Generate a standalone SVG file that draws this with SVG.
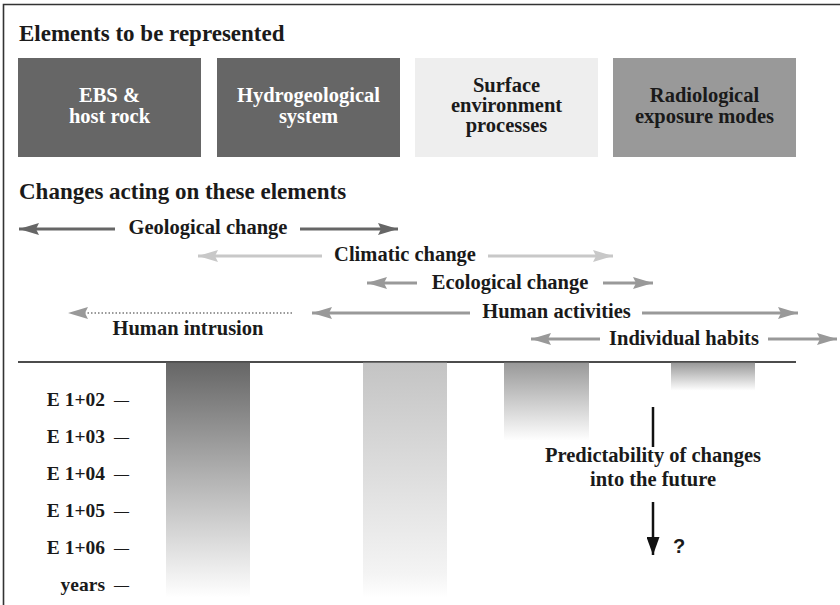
<svg xmlns="http://www.w3.org/2000/svg" width="840" height="605" viewBox="0 0 840 605">
  <style>
    text { font-family: "Liberation Serif", "Times New Roman", serif; font-weight: bold; fill: #1a1a1a; }
    .title { font-size: 23px; }
    .lbl { font-size: 20.5px; text-anchor: middle; }
    .box-dark { font-size: 20.5px; text-anchor: middle; fill: #ffffff; }
    .box-lite { font-size: 20.5px; text-anchor: middle; fill: #1a1a1a; }
    .axis { font-size: 19.5px; text-anchor: end; }
    .dash { font-size: 15px; }
    .q { font-family: "Liberation Sans", Arial, sans-serif; font-size: 20px; }
    .ln { fill: none; stroke-width: 3; }
    .dark { stroke: #666666; }
    .light { stroke: #c8c8c8; }
    .mid { stroke: #999999; }
  </style>
  <defs>
    <marker id="ahDark" viewBox="0 -6 20 12" refX="20" refY="0" markerWidth="20" markerHeight="12" markerUnits="userSpaceOnUse" orient="auto">
      <path d="M0,-6 L20,0 L0,6 L3,0 Z" fill="#666666"/>
    </marker>
    <marker id="ahLight" viewBox="0 -6 20 12" refX="20" refY="0" markerWidth="20" markerHeight="12" markerUnits="userSpaceOnUse" orient="auto">
      <path d="M0,-6 L20,0 L0,6 L3,0 Z" fill="#c8c8c8"/>
    </marker>
    <marker id="ahMid" viewBox="0 -6 20 12" refX="20" refY="0" markerWidth="20" markerHeight="12" markerUnits="userSpaceOnUse" orient="auto">
      <path d="M0,-6 L20,0 L0,6 L3,0 Z" fill="#999999"/>
    </marker>
    <marker id="ahBlack" viewBox="0 -6.5 18 13" refX="18" refY="0" markerWidth="18" markerHeight="13" markerUnits="userSpaceOnUse" orient="auto">
      <path d="M0,-6.5 L18,0 L0,6.5 Z" fill="#111111"/>
    </marker>
    <linearGradient id="gBar1" x1="0" y1="0" x2="0" y2="1">
      <stop offset="0" stop-color="#666666"/>
      <stop offset="0.5" stop-color="#b4b4b4"/>
      <stop offset="1" stop-color="#ffffff"/>
    </linearGradient>
    <linearGradient id="gBar2" x1="0" y1="0" x2="0" y2="1">
      <stop offset="0" stop-color="#c4c4c4"/>
      <stop offset="0.9" stop-color="#f4f4f4"/>
      <stop offset="1" stop-color="#ffffff"/>
    </linearGradient>
    <linearGradient id="gBar3" x1="0" y1="0" x2="0" y2="1">
      <stop offset="0" stop-color="#999999"/>
      <stop offset="1" stop-color="#ffffff"/>
    </linearGradient>
    <linearGradient id="gBar4" x1="0" y1="0" x2="0" y2="1">
      <stop offset="0" stop-color="#999999"/>
      <stop offset="1" stop-color="#ffffff"/>
    </linearGradient>
  </defs>

  <rect width="840" height="605" fill="#ffffff"/>

  <!-- frame -->
  <path d="M3.5,605 V4.5 H840" fill="none" stroke="#333333" stroke-width="1.6"/>

  <!-- section headings -->
  <text class="title" x="19" y="41">Elements to be represented</text>
  <text class="title" x="19" y="199">Changes acting on these elements</text>

  <!-- element boxes -->
  <g id="ebs">
    <rect x="18" y="58" width="183" height="99" fill="#666666"/>
    <text class="box-dark" x="109.5" y="102">EBS &amp;</text>
    <text class="box-dark" x="109.5" y="123">host rock</text>
  </g>
  <g id="hydro">
    <rect x="217" y="58" width="183" height="99" fill="#666666"/>
    <text class="box-dark" x="308.5" y="102">Hydrogeological</text>
    <text class="box-dark" x="308.5" y="123">system</text>
  </g>
  <g id="surface">
    <rect x="415" y="58" width="183" height="99" fill="#eeeeee"/>
    <text class="box-lite" x="506.5" y="92">Surface</text>
    <text class="box-lite" x="506.5" y="112">environment</text>
    <text class="box-lite" x="506.5" y="132">processes</text>
  </g>
  <g id="radio">
    <rect x="613" y="58" width="183" height="99" fill="#999999"/>
    <text class="box-lite" x="704.5" y="102">Radiological</text>
    <text class="box-lite" x="704.5" y="123">exposure modes</text>
  </g>

  <!-- change ranges -->
  <g id="connectors">
    <line class="ln dark" x1="115" y1="229" x2="19" y2="229" marker-end="url(#ahDark)"/>
    <line class="ln dark" x1="300" y1="229" x2="398" y2="229" marker-end="url(#ahDark)"/>

    <line class="ln light" x1="322" y1="256" x2="198" y2="256" marker-end="url(#ahLight)"/>
    <line class="ln light" x1="488" y1="256" x2="613" y2="256" marker-end="url(#ahLight)"/>

    <line class="ln mid" x1="417" y1="283" x2="367" y2="283" marker-end="url(#ahMid)"/>
    <line class="ln mid" x1="603" y1="283" x2="653" y2="283" marker-end="url(#ahMid)"/>

    <line class="ln mid" x1="470" y1="313" x2="312" y2="313" marker-end="url(#ahMid)"/>
    <line class="ln mid" x1="642" y1="313" x2="798" y2="313" marker-end="url(#ahMid)"/>

    <line x1="292" y1="313" x2="84" y2="313" fill="none" stroke="#999999" stroke-width="2" stroke-dasharray="1.5 2"/>
    <line x1="88" y1="313" x2="68" y2="313" stroke="#999999" stroke-width="0.01" marker-end="url(#ahMid)"/>

    <line class="ln mid" x1="600" y1="339" x2="531" y2="339" marker-end="url(#ahMid)"/>
    <line class="ln mid" x1="768" y1="339" x2="837" y2="339" marker-end="url(#ahMid)"/>

    <!-- predictability arrow -->
    <line x1="653" y1="407" x2="653" y2="447" stroke="#111111" stroke-width="2.5"/>
    <line x1="653" y1="502" x2="653" y2="555" stroke="#111111" stroke-width="2.5" marker-end="url(#ahBlack)"/>
  </g>

  <g id="labels">
    <text class="lbl" x="208" y="234">Geological change</text>
    <text class="lbl" x="405" y="261">Climatic change</text>
    <text class="lbl" x="510" y="288.5">Ecological change</text>
    <text class="lbl" x="556.5" y="318">Human activities</text>
    <text class="lbl" x="188" y="335">Human intrusion</text>
    <text class="lbl" x="684" y="345">Individual habits</text>
  </g>

  <!-- time axis -->
  <line x1="18" y1="362" x2="796" y2="362" stroke="#111111" stroke-width="1.3"/>
  <g id="bars">
    <rect x="166" y="362.7" width="84" height="235" fill="url(#gBar1)"/>
    <rect x="363" y="362.7" width="84" height="235" fill="url(#gBar2)"/>
    <rect x="504" y="362.7" width="85" height="78" fill="url(#gBar3)"/>
    <rect x="671" y="362.7" width="84" height="28" fill="url(#gBar4)"/>
  </g>
  <g id="axis-labels">
    <text class="axis" x="129" y="406">E 1+02<tspan class="dash" dx="9" dy="-1.5">—</tspan></text>
    <text class="axis" x="129" y="443">E 1+03<tspan class="dash" dx="9" dy="-1.5">—</tspan></text>
    <text class="axis" x="129" y="480">E 1+04<tspan class="dash" dx="9" dy="-1.5">—</tspan></text>
    <text class="axis" x="129" y="517">E 1+05<tspan class="dash" dx="9" dy="-1.5">—</tspan></text>
    <text class="axis" x="129" y="554">E 1+06<tspan class="dash" dx="9" dy="-1.5">—</tspan></text>
    <text class="axis" x="129" y="591">years<tspan class="dash" dx="9" dy="-1.5">—</tspan></text>
  </g>

  <g id="predictability">
    <text class="lbl" x="653" y="462">Predictability of changes</text>
    <text class="lbl" x="653" y="486">into the future</text>
    <text class="q" x="673" y="553">?</text>
  </g>
</svg>
